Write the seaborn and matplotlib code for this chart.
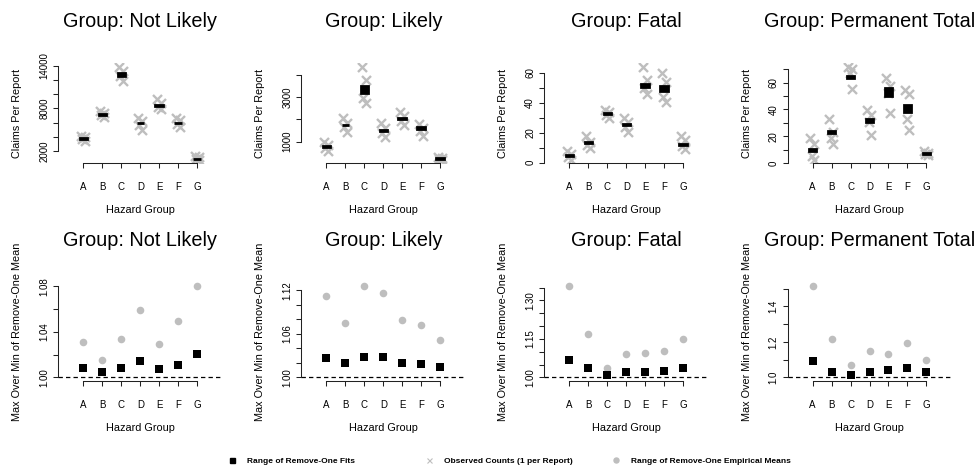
import numpy as np
import pandas as pd
import matplotlib
matplotlib.use("Agg")
import matplotlib.pyplot as plt
import seaborn as sns
from matplotlib.lines import Line2D

# ---------------- data ----------------
groups = ["Not Likely", "Likely", "Fatal", "Permanent Total"]
hazards = ["A", "B", "C", "D", "E", "F", "G"]

# observed counts (one value per report), per hazard group
obs_not_likely = [[4150, 3950, 3700, 3400], [7600, 7300, 7000, 6800], [13870, 13200, 12600, 11900],
                  [6700, 6200, 5600, 4900], [9250, 8700, 8200, 7900], [6700, 6300, 5800, 5350],
                  [1350, 1100, 900, 780]]
obs_likely = [[980, 850, 720, 580], [2050, 1850, 1650, 1420], [4360, 3750, 2950, 2720],
              [1850, 1600, 1380, 1220], [2350, 2150, 1950, 1750], [1780, 1620, 1480, 1270],
              [330, 260, 220, 200]]
obs_fatal = [[7.5, 5.5, 3.5, 2.0], [18, 14, 11.5, 9.5], [35, 33.5, 32, 30],
             [30, 27, 24, 20.5], [64, 55, 50, 45.5], [59.5, 54, 44, 40.5],
             [17.8, 15, 11, 9]]
obs_perm_total = [[18.5, 14, 5.5, 2.5], [33, 23.5, 19, 14.5], [72, 70, 67, 55.5],
                  [39.5, 36, 31, 21], [63.5, 57.5, 52, 37], [54.5, 51.5, 33, 24.5],
                  [8.8, 7.5, 6.5, 6.0]]

# range of remove-one fits (low, high)
fit_lo_not_likely = [3750, 7080, 12600, 5900, 8400, 5890, 860]
fit_hi_not_likely = [3850, 7200, 12950, 5990, 8480, 5990, 920]
fit_lo_likely = [770, 1730, 3200, 1480, 2020, 1590, 240]
fit_hi_likely = [800, 1770, 3500, 1530, 2070, 1640, 265]
fit_lo_fatal = [4.5, 12.8, 32.6, 24.8, 50.5, 47.8, 11.5]
fit_hi_fatal = [5.0, 13.6, 33.3, 25.6, 52.7, 50.9, 12.2]
fit_lo_perm_total = [9.0, 22.5, 63.5, 31.0, 50.3, 38.3, 6.8]
fit_hi_perm_total = [10.5, 23.8, 64.8, 32.5, 55.8, 43.7, 7.4]

# max over min of remove-one means
emp_ratio_not_likely = [1.0312, 1.0155, 1.0336, 1.0593, 1.0295, 1.0493, 1.0803]
emp_ratio_likely = [1.1118, 1.0751, 1.1260, 1.1159, 1.0788, 1.0724, 1.0513]
emp_ratio_fatal = [1.3557, 1.1680, 1.0375, 1.0906, 1.0957, 1.1035, 1.1500]
emp_ratio_perm_total = [1.514, 1.215, 1.071, 1.150, 1.133, 1.193, 1.099]
fit_ratio_not_likely = [1.0085, 1.0044, 1.0085, 1.0146, 1.0070, 1.0111, 1.0201]
fit_ratio_likely = [1.0270, 1.0192, 1.0284, 1.0284, 1.0202, 1.0179, 1.0147]
fit_ratio_fatal = [1.0686, 1.0375, 1.0103, 1.0220, 1.0220, 1.0259, 1.0375]
fit_ratio_perm_total = [1.0916, 1.032, 1.015, 1.032, 1.041, 1.054, 1.032]

# axis ticks and tick labels
top_ticks = [[2000, 4000, 6000, 8000, 10000, 12000, 14000],
             [1000, 2000, 3000, 4000],
             [0, 10, 20, 30, 40, 50, 60],
             [0, 10, 20, 30, 40, 50, 60, 70]]
top_tick_labels = [["2000", "", "", "8000", "", "", "14000"],
                   ["1000", "", "3000", ""],
                   ["0", "", "20", "", "40", "", "60"],
                   ["0", "", "20", "", "40", "", "60", ""]]
bot_ticks = [[1.00, 1.02, 1.04, 1.06, 1.08],
             [1.00, 1.02, 1.04, 1.06, 1.08, 1.10, 1.12],
             [1.00, 1.05, 1.10, 1.15, 1.20, 1.25, 1.30, 1.35],
             [1.0, 1.1, 1.2, 1.3, 1.4, 1.5]]
bot_tick_labels = [["1.00", "", "1.04", "", "1.08"],
                   ["1.00", "", "", "1.06", "", "", "1.12"],
                   ["1.00", "", "", "1.15", "", "", "1.30", ""],
                   ["1.0", "", "1.2", "", "1.4", ""]]

obs_all = [obs_not_likely, obs_likely, obs_fatal, obs_perm_total]
fit_lo_all = [fit_lo_not_likely, fit_lo_likely, fit_lo_fatal, fit_lo_perm_total]
fit_hi_all = [fit_hi_not_likely, fit_hi_likely, fit_hi_fatal, fit_hi_perm_total]
emp_ratio_all = [emp_ratio_not_likely, emp_ratio_likely, emp_ratio_fatal, emp_ratio_perm_total]
fit_ratio_all = [fit_ratio_not_likely, fit_ratio_likely, fit_ratio_fatal, fit_ratio_perm_total]

# ---------------- style ----------------
sns.set_style("ticks")
plt.rcParams["font.family"] = ["Liberation Sans", "DejaVu Sans"]
for k in ["text.color", "axes.labelcolor", "xtick.color", "ytick.color", "axes.edgecolor"]:
    plt.rcParams[k] = "black"

GRAY = "#BEBEBE"
W, H = 976, 470
fig = plt.figure(figsize=(W / 100, H / 100), dpi=100)

col_left = [58.3, 301.3, 544.3, 787.5]
PW = 164.0
rows = [(63.0, 100.3), (282.4, 98.6)]  # (top, height) in pixels
jitter = [-0.12, 0.10, -0.05, 0.08]


def px_axes(left, top, w, h):
    return fig.add_axes([left / W, 1 - (top + h) / H, w / W, h / H])


def style_axes(ax, ticks, labels, ylabel, title, lo, hi):
    pad = 0.04 * (hi - lo)
    ax.set_ylim(lo - pad, hi + pad)
    ax.set_xlim(-0.32, 8.32)
    ax.set_xticks(range(1, 8))
    ax.set_xticklabels(hazards)
    ax.set_yticks(ticks)
    ax.set_yticklabels(labels)
    for s in ["top", "right"]:
        ax.spines[s].set_visible(False)
    for s in ["left", "bottom"]:
        ax.spines[s].set_linewidth(0.75)
        ax.spines[s].set_color("#222222")
    ax.spines["left"].set_bounds(ticks[0], ticks[-1])
    ax.spines["bottom"].set_bounds(1, 7)
    ax.tick_params(axis="both", direction="out", length=3.6, width=0.75, color="#222222",
                   labelsize=7, left=True, bottom=True)
    ax.tick_params(axis="x", pad=10)
    ax.tick_params(axis="y", pad=2.9)
    for t in ax.get_yticklabels():
        t.set_rotation(90)
        t.set_va("center")
    ax.set_xlabel("")
    ax.set_ylabel("")
    ax.annotate("Hazard Group", xy=(0.5, 0), xycoords="axes fraction", xytext=(0, -50),
                textcoords="offset pixels", ha="center", va="baseline", fontsize=7.8)
    ax.annotate(ylabel, xy=(0, 0.5), xycoords="axes fraction", xytext=(-41, 0),
                textcoords="offset pixels", ha="center", va="center", rotation=90, fontsize=7.8)
    ax.annotate(title, xy=(0.5, 1), xycoords="axes fraction", xytext=(0, 36),
                textcoords="offset pixels", ha="center", va="baseline", fontsize=14.3)


for gi, g in enumerate(groups):
    # ---- top row: observed counts and remove-one fit ranges ----
    top, h = rows[0]
    ax = px_axes(col_left[gi], top, PW, h)
    recs = []
    for hi_, vals in enumerate(obs_all[gi]):
        for ri, v in enumerate(vals):
            recs.append({"hazard": hazards[hi_], "x": hi_ + 1 + jitter[ri], "value": v})
    df = pd.DataFrame(recs)
    sns.scatterplot(data=df, x="x", y="value", marker="x", color=GRAY, s=42, linewidth=1.7,
                    ax=ax, legend=False, zorder=2)
    lo_arr = np.array(fit_lo_all[gi])
    hi_arr = np.array(fit_hi_all[gi])
    ax.bar(np.arange(1, 8), hi_arr - lo_arr, bottom=lo_arr, width=0.4, color="black",
           edgecolor="black", linewidth=2.0, zorder=3)
    lo = min(df["value"].min(), lo_arr.min())
    hi = max(df["value"].max(), hi_arr.max())
    style_axes(ax, top_ticks[gi], top_tick_labels[gi], "Claims Per Report", "Group: " + g, lo, hi)

    # ---- bottom row: max/min ratios ----
    top, h = rows[1]
    ax2 = px_axes(col_left[gi], top, PW, h)
    dfr = pd.DataFrame({"x": np.arange(1, 8), "emp": emp_ratio_all[gi], "fit": fit_ratio_all[gi]})
    ax2.axhline(1.0, color="black", lw=0.9, ls=(0, (3.5, 2.5)), zorder=1)
    sns.scatterplot(data=dfr, x="x", y="emp", marker="o", color=GRAY, s=30, linewidth=0,
                    ax=ax2, legend=False, zorder=2)
    sns.scatterplot(data=dfr, x="x", y="fit", marker="s", color="black", s=30, linewidth=0,
                    ax=ax2, legend=False, zorder=3)
    lo2 = min(1.0, dfr["fit"].min())
    hi2 = max(dfr["emp"].max(), dfr["fit"].max())
    style_axes(ax2, bot_ticks[gi], bot_tick_labels[gi], "Max Over Min of Remove-One Mean",
               "Group: " + g, lo2, hi2)

# ---------------- legend ----------------
legend_items = [
    (Line2D([], [], marker="s", color="black", ls="none", markersize=3.6), "Range of Remove-One Fits", 232),
    (Line2D([], [], marker="x", color=GRAY, ls="none", markersize=3.6, markeredgewidth=0.8),
     "Observed Counts (1 per Report)", 429),
    (Line2D([], [], marker="o", color=GRAY, ls="none", markersize=3.6), "Range of Remove-One Empirical Means", 616),
]
fs = 6.0
for handle, label, mx in legend_items:
    left = mx - 0.5 * fs * 100 / 72
    fig.legend([handle], [label], loc="center left", bbox_to_anchor=(left / W, 1 - 461 / H),
               frameon=False, handlelength=1.0, handletextpad=1.3, borderpad=0,
               borderaxespad=0, prop={"size": fs, "weight": "bold"})

fig.savefig("out.png", dpi=100)
